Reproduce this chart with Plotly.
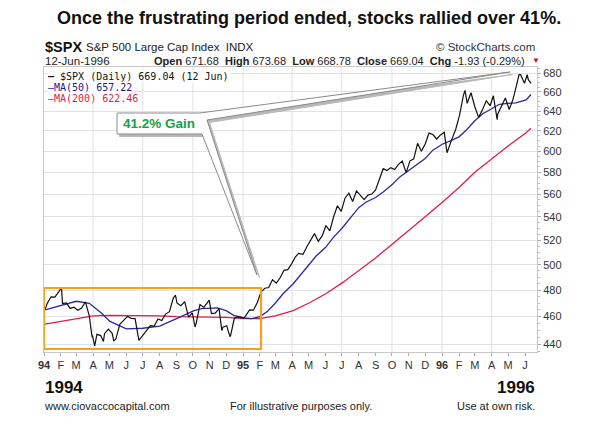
import math
import plotly.graph_objects as go

# ---------------- data ----------------
spx_dates = [
    "1994-01-03","1994-01-07","1994-01-14","1994-01-21","1994-01-28","1994-02-02","1994-02-04","1994-02-11",
    "1994-02-18","1994-02-25","1994-03-04","1994-03-11","1994-03-18","1994-03-25","1994-03-30","1994-03-31",
    "1994-04-04","1994-04-08","1994-04-15","1994-04-20","1994-04-22","1994-04-29","1994-05-06","1994-05-09",
    "1994-05-13","1994-05-20","1994-05-27","1994-06-03","1994-06-10","1994-06-17","1994-06-24","1994-07-01",
    "1994-07-08","1994-07-15","1994-07-22","1994-07-29","1994-08-05","1994-08-12","1994-08-19","1994-08-26",
    "1994-08-30","1994-09-02","1994-09-09","1994-09-16","1994-09-23","1994-09-30","1994-10-05","1994-10-07",
    "1994-10-14","1994-10-21","1994-10-31","1994-11-04","1994-11-11","1994-11-18","1994-11-23","1994-11-25",
    "1994-12-02","1994-12-08","1994-12-09","1994-12-16","1994-12-23","1994-12-30",
    "1995-01-03","1995-01-06","1995-01-13","1995-01-20","1995-01-27","1995-02-03","1995-02-10","1995-02-17",
    "1995-02-24","1995-03-03","1995-03-10","1995-03-17","1995-03-24","1995-03-31","1995-04-07","1995-04-13",
    "1995-04-21","1995-04-28","1995-05-05","1995-05-12","1995-05-19","1995-05-26","1995-06-02","1995-06-09",
    "1995-06-16","1995-06-23","1995-06-30","1995-07-07","1995-07-14","1995-07-21","1995-07-28","1995-08-04",
    "1995-08-11","1995-08-18","1995-08-25","1995-09-01","1995-09-08","1995-09-15","1995-09-22","1995-09-29",
    "1995-10-06","1995-10-13","1995-10-20","1995-10-27","1995-11-03","1995-11-10","1995-11-17","1995-11-24",
    "1995-12-01","1995-12-08","1995-12-15","1995-12-22","1995-12-29",
    "1996-01-05","1996-01-10","1996-01-12","1996-01-19","1996-01-26","1996-02-02","1996-02-09","1996-02-12",
    "1996-02-16","1996-02-23","1996-03-01","1996-03-08","1996-03-15","1996-03-22","1996-03-29","1996-04-04",
    "1996-04-11","1996-04-12","1996-04-19","1996-04-26","1996-05-03","1996-05-10","1996-05-17","1996-05-21",
    "1996-05-24","1996-05-31","1996-06-05","1996-06-07","1996-06-12",
]
spx_close = [
    465.4, 469.9, 474.9, 474.7, 478.7, 482.0, 469.8, 470.2,
    466.1, 467.0, 464.7, 466.4, 471.1, 460.6, 445.6, 445.8,
    438.9, 447.1, 446.2, 442.0, 447.6, 450.9, 447.8, 442.3,
    444.1, 454.4, 457.3, 460.1, 458.7, 458.5, 442.8, 446.2,
    449.6, 453.4, 453.1, 458.3, 457.1, 461.9, 463.7, 473.8,
    476.1, 470.0, 468.2, 471.2, 459.7, 462.7, 452.4, 455.1,
    469.1, 466.9, 472.4, 462.3, 462.6, 466.0, 449.9, 452.3,
    453.3, 445.5, 446.0, 458.8, 459.8, 459.3,
    459.1, 460.7, 465.0, 464.8, 470.4, 478.7, 481.5, 482.0,
    488.1, 485.4, 489.6, 495.5, 496.1, 500.7, 506.4, 509.2,
    508.5, 514.7, 520.1, 525.6, 519.2, 523.7, 532.5, 527.9,
    539.8, 549.7, 544.8, 556.4, 560.9, 553.5, 562.9, 558.9,
    555.1, 559.2, 560.1, 563.8, 572.7, 583.4, 581.7, 584.4,
    582.6, 587.5, 590.7, 579.7, 590.6, 592.7, 607.7, 600.0,
    607.0, 617.7, 616.3, 611.9, 615.9,
    618.5, 598.5, 601.8, 611.8, 621.6, 635.8, 656.4, 661.5,
    648.0, 659.1, 644.4, 633.5, 641.4, 650.6, 645.5, 655.9,
    631.2, 636.7, 645.1, 653.5, 641.6, 652.1, 668.3, 678.5,
    678.5, 669.1, 678.4, 673.3, 669.04,
]

ma50_dates = [
    "1994-01-03","1994-02-01","1994-03-01","1994-03-25","1994-04-15","1994-05-02","1994-06-01","1994-07-01",
    "1994-07-15","1994-08-01","1994-09-01","1994-10-03","1994-10-17","1994-11-01","1994-11-15","1994-12-01",
    "1994-12-15","1995-01-03","1995-01-16","1995-02-01","1995-02-15","1995-03-01","1995-03-15","1995-04-03",
    "1995-04-17","1995-05-01","1995-05-15","1995-06-01","1995-06-15","1995-07-03","1995-07-17","1995-08-01",
    "1995-08-15","1995-09-01","1995-09-15","1995-10-02","1995-10-16","1995-11-01","1995-11-15","1995-12-01",
    "1995-12-15","1996-01-02","1996-01-16","1996-02-01","1996-02-15","1996-03-01","1996-03-15","1996-04-01",
    "1996-04-15","1996-05-01","1996-05-15","1996-06-03","1996-06-12",
]
ma50_vals = [
    465.0, 468.5, 471.5, 470.0, 463.0, 456.5, 451.0, 451.5,
    452.0, 453.0, 458.5, 464.5, 466.0, 466.0, 466.5, 464.5,
    461.0, 459.0, 458.5, 460.0, 464.0, 470.0, 477.0, 485.0,
    492.0, 499.0, 507.0, 514.0, 522.0, 531.0, 539.0, 548.0,
    553.0, 557.0, 562.0, 569.0, 576.0, 582.0, 587.0, 593.0,
    601.0, 607.0, 610.0, 614.0, 621.0, 630.0, 637.0, 642.0,
    647.0, 648.0, 648.5, 651.5, 657.22,
]

ma200_dates = [
    "1994-01-03","1994-02-01","1994-03-01","1994-04-01","1994-05-02","1994-06-01","1994-07-01","1994-08-01",
    "1994-09-01","1994-10-03","1994-11-01","1994-12-01","1995-01-03","1995-02-01","1995-03-01","1995-04-03",
    "1995-05-01","1995-06-01","1995-07-03","1995-08-01","1995-09-01","1995-10-02","1995-11-01","1995-12-01",
    "1996-01-02","1996-02-01","1996-03-01","1996-04-01","1996-05-01","1996-06-03","1996-06-12",
]
ma200_vals = [
    454.5, 456.5, 458.5, 460.5, 461.0, 461.0, 461.0, 460.5,
    460.0, 460.0, 460.0, 459.5, 458.5, 458.5, 460.5, 464.5,
    470.0, 477.0, 486.0, 495.5, 505.5, 517.0, 528.0, 540.0,
    553.0, 566.0, 580.0, 593.0, 605.0, 618.0, 622.46,
]

month_ticks = ["1994-%02d-01" % m for m in range(1, 13)] + \
              ["1995-%02d-01" % m for m in range(1, 13)] + \
              ["1996-%02d-01" % m for m in range(1, 7)]
month_letters = ["<b>94</b>", "F", "M", "A", "M", "J", "J", "A", "S", "O", "N", "D",
                 "<b>95</b>", "F", "M", "A", "M", "J", "J", "A", "S", "O", "N", "D",
                 "<b>96</b>", "F", "M", "A", "M", "J"]
grid_quarters = ["1994-04-01", "1994-07-01", "1994-10-01", "1995-01-01", "1995-04-01",
                 "1995-07-01", "1995-10-01", "1996-01-01", "1996-04-01"]
y_ticks = [440, 460, 480, 500, 520, 540, 560, 580, 600, 620, 640, 660, 680]

# ---------------- layout geometry (page pixels; body has an 8px margin) ----------------
OFF = 8
W, H = 603 - OFF, 425 - OFF
L, R, T, B = 44, 537, 67, 352
PW, PH = R - L, B - T


def px(x):
    return (x - L) / PW


def py(y):
    return (B - y) / PH


FONT = "Liberation Sans, Arial, sans-serif"
TXT = "#222222"

fig = go.Figure()
fig.add_trace(go.Scatter(x=ma200_dates, y=ma200_vals, mode="lines",
                         line=dict(color="#dc1e4b", width=1.3), hoverinfo="skip"))
fig.add_trace(go.Scatter(x=ma50_dates, y=ma50_vals, mode="lines",
                         line=dict(color="#2a2a9c", width=1.3), hoverinfo="skip"))
fig.add_trace(go.Scatter(x=spx_dates, y=spx_close, mode="lines",
                         line=dict(color="#111111", width=1.2), hoverinfo="skip"))

shapes = []
for q in grid_quarters:
    shapes.append(dict(type="line", xref="x", yref="paper", x0=q, x1=q, y0=0, y1=1,
                       line=dict(color="#e2e2e2", width=1), layer="below"))

# orange highlight box
shapes.append(dict(type="rect", xref="x", yref="paper", x0="1994-01-01", x1="1995-02-03",
                   y0=py(349), y1=py(288), line=dict(color="#f4a020", width=2.2)))

# callout bubble
pts = [(117, 113), (200, 113), (510, 72), (207, 120), (257, 275), (202, 134), (117, 134)]


def path(points, dx=0, dy=0):
    s = ""
    for i, (a, b) in enumerate(points):
        s += ("M" if i == 0 else "L") + " %.4f %.4f " % (px(a + dx), py(b + dy))
    return s + "Z"


shapes.append(dict(type="path", xref="paper", yref="paper", path=path(pts, 2.5, 2.5),
                   fillcolor="#b8b8b8", line=dict(color="#b8b8b8", width=1)))
shapes.append(dict(type="path", xref="paper", yref="paper", path=path(pts),
                   fillcolor="white", line=dict(color="#8a8a8a", width=1)))

ann = []


def text(x, y, s, size=11, color=TXT, xanchor="left", family=FONT, bg=None):
    d = dict(xref="paper", yref="paper", x=px(x), y=py(y), text=s, showarrow=False,
             xanchor=xanchor, yanchor="middle", font=dict(size=size, color=color, family=family))
    if bg:
        d["bgcolor"] = bg
        d["borderpad"] = 0
    ann.append(d)


text(309, 18, "<b>Once the frustrating period ended, stocks rallied over 41%.</b>", size=18,
     xanchor="center", color="#111111")
text(43, 47, "<b>$SPX</b>", size=14.5, color="#111111")
text(84, 47, "S&P 500 Large Cap Index  INDX", size=11.5)
text(537, 47, "© StockCharts.com", size=11.5, xanchor="right", color="#333333")
text(43, 61, "12-Jun-1996", size=11.5)
text(527, 61, "<b>Open</b> 671.68  <b>High</b> 673.68  <b>Low</b> 668.78  <b>Close</b> 669.04  "
              "<b>Chg</b> -1.93 (-0.29%)", size=11, xanchor="right")
text(530, 61, "▼", size=8, color="#c0103a")

LEG = "DejaVu Sans Mono, monospace"
text(47, 76, "<b>—</b> $SPX (Daily) 669.04 (12 Jun)", size=10, color="#111111", family=LEG, bg="white")
text(47, 87, "—MA(50) 657.22", size=10, color="#1c1c8c", family=LEG, bg="white")
text(47, 98, "—MA(200) 622.46", size=10, color="#d81e46", family=LEG, bg="white")

text(159, 124, "<b>41.2% Gain</b>", size=13.5, color="#16a04a", xanchor="center")

text(43, 387, "<b>1994</b>", size=17, color="#111111")
text(537, 387, "<b>1996</b>", size=17, color="#111111", xanchor="right")
text(42, 406, "www.ciovaccocapital.com", size=11)
text(228, 406, "For illustrative purposes only.", size=11)
text(537, 406, "Use at own risk.", size=11, xanchor="right")

fig.update_layout(
    width=W, height=H,
    margin=dict(l=L - OFF, r=W - (R - OFF), t=T - OFF, b=H - (B - OFF), pad=0),
    paper_bgcolor="white", plot_bgcolor="white",
    showlegend=False,
    shapes=shapes,
    annotations=ann,
    font=dict(family=FONT, size=11, color=TXT),
    xaxis=dict(
        type="date", range=["1994-01-01", "1996-06-23"],
        tickmode="array", tickvals=month_ticks, ticktext=month_letters,
        showgrid=False, ticks="outside", ticklen=3, tickcolor="#aaaaaa",
        tickfont=dict(size=11, color="#333333", family=FONT),
        showline=True, mirror=True, linecolor="#c8c8c8", linewidth=1,
        zeroline=False,
    ),
    yaxis=dict(
        type="log", side="right",
        range=[math.log10(434.6), math.log10(686.9)],
        tickmode="array", tickvals=y_ticks, ticktext=[str(v) for v in y_ticks],
        showgrid=True, gridcolor="#e2e2e2", gridwidth=1,
        ticks="outside", ticklen=3, tickcolor="#aaaaaa",
        tickfont=dict(size=11, color="#333333", family=FONT),
        showline=True, mirror=True, linecolor="#c8c8c8", linewidth=1,
        zeroline=False,
        minor=dict(tickmode="array", tickvals=list(range(435, 690, 5)), ticks="outside",
                   ticklen=2, tickcolor="#bbbbbb", showgrid=False),
    ),
)

fig.write_html("out.html")
